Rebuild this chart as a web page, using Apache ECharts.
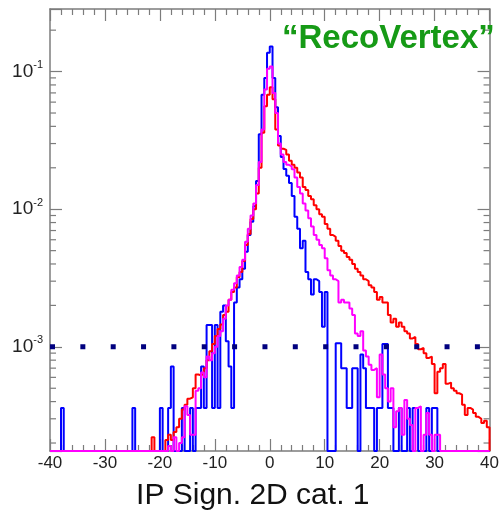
<!DOCTYPE html>
<html><head><meta charset="utf-8">
<script src="https://cdn.jsdelivr.net/npm/echarts@6/dist/echarts.min.js"></script>
<style>html,body{margin:0;padding:0;background:#fff}#c{width:502px;height:516px}</style>
</head><body><div id="c"></div>
<script>
// ---- axis ranges and ticks ----
const xMin = -40, xMax = 40, binWidth = 0.5;
const yMin = 1.75e-4, yMax = 0.285;
const minorYTicks = [2e-4,3e-4,4e-4,5e-4,6e-4,7e-4,8e-4,9e-4,
  2e-3,3e-3,4e-3,5e-3,6e-3,7e-3,8e-3,9e-3,
  2e-2,3e-2,4e-2,5e-2,6e-2,7e-2,8e-2,9e-2,2e-1];
const refLevel = 1e-3;
const titleText = '\u201cRecoVertex\u201d';
const xTitle = 'IP Sign. 2D cat. 1';

// ---- histogram contents, bins of 0.5 from -40 to 40 (160 bins) ----
const blueValues = [
  0,0,0,0,3.6e-4,0,0,0,0,0,
  0,0,0,0,0,0,0,0,0,0,
  0,0,0,0,0,0,0,0,0,0,
  3.6e-4,0,0,0,0,0,0,0,0,0,
  3.6e-4,0,0,3.6e-4,7.2e-4,0,0,0,3.6e-4,0,
  0,3.6e-4,0,3.6e-4,3.6e-4,7.2e-4,3.6e-4,1.44e-3,1.44e-3,3.6e-4,
  1.44e-3,3.6e-4,1.8e-3,2.0e-3,1.1e-3,7.2e-4,3.6e-4,2.1e-3,2.7e-3,3.1e-3,
  3.7e-3,4.9e-3,6.5e-3,8.1e-3,0.0105,0.016,0.035,0.068,0.09,0.137,
  0.152,0.09,0.055,0.034,
  0.024,0.0196,0.0175,0.0155,0.0125,0.0088,0.0072,0.0052,0.0059,0.0035,
  0.0031,0.0024,0.0031,0.0030,0.0025,0.0014,0.0025,0,0,0,
  0.00106,0.00106,0.0007,0.0007,0.00036,0.00036,0.0007,0.0007,0,0.00088,
  0.0007,0.00036,0.00036,0.00036,0,0.00036,0.00036,0.00105,0.00105,0.00036,
  0.00036,0,0,0.00036,0,0,0.00036,0,0.00036,0.00036,
  0,0,0,0.00036,0,0.00036,0.00036,0,0,0,
  0,0,0,0,0,0,0,0,0,0,
  0,0,0,0,0,0
];
const redValues = [
  0,0,0,0,0,0,0,0,0,0,
  0,0,0,0,0,0,0,0,0,0,
  0,0,0,0,0,0,0,0,0,0,
  0,0,0,0,0,0,
  0,2.2e-4,0,0,0,0,2.1e-4,2.3e-4,2.1e-4,2.4e-4,
  2.6e-4,3.0e-4,3.5e-4,3.8e-4,4.2e-4,4.3e-4,5.0e-4,6.3e-4,6.2e-4,6.4e-4,
  7.0e-4,8.0e-4,9.3e-4,1.05e-3,1.2e-3,1.35e-3,1.45e-3,1.7e-3,1.8e-3,2.2e-3,
  2.5e-3,2.7e-3,3.2e-3,3.5e-3,
  0.0042,0.0055,0.0066,0.0085,0.010,0.013,0.02,0.036,0.056,0.068,
  0.077,0.063,0.038,0.029,
  0.0275,0.027,0.025,0.0225,0.021,0.020,0.0185,0.017,0.0145,0.0138,
  0.0125,0.0118,0.0107,0.0100,0.0092,0.0088,0.0078,0.0072,0.0065,0.0063,
  0.0059,0.0054,0.0050,0.0048,0.0045,0.0043,0.0040,0.0037,0.0035,0.0033,
  0.0031,0.0030,0.0028,0.0027,0.0025,0.0022,0.0023,0.0021,0.0021,0.0017,
  0.0015,0.0016,0.0014,0.0015,0.0014,0.0013,0.00125,0.00115,0.00118,0.00105,
  0.00096,0.00098,0.0009,0.00083,0.00085,0.00075,0.00046,0.00066,0.0007,0.00075,
  0.00054,0.00055,0.0005,0.00048,0.00046,0.00045,0.00038,0.00032,0.00036,0.00035,
  0.00033,0.00031,0.0003,0.00028,0.00029,0.00026
];
const magentaValues = [
  0,0,0,0,0,0,0,0,0,0,
  0,0,0,0,0,0,0,0,0,0,
  0,0,0,0,0,0,0,0,0,0,
  0,0,0,0,0,0,0,0,0,0,
  0,0,
  0,1.9e-4,0,2.2e-4,0,2.0e-4,2.2e-4,3.7e-4,3.2e-4,2.3e-4,
  2.3e-4,4.8e-4,5.0e-4,6.5e-4,6.0e-4,8.5e-4,8.0e-4,9.0e-4,1.0e-3,1.2e-3,
  1.3e-3,1.6e-3,2.0e-3,2.2e-3,2.6e-3,2.9e-3,3.3e-3,3.8e-3,
  0.0043,0.0058,0.0072,0.009,0.011,0.015,0.022,0.038,0.074,0.105,
  0.109,0.07,0.05,0.03,
  0.025,0.022,0.021,0.0205,0.0195,0.017,0.0145,0.013,0.011,0.0098,
  0.0086,0.0075,0.0065,0.006,0.0055,0.0052,0.0044,0.0036,0.0033,0.0031,
  0.0030,0.0021,0.0022,0.0021,0.0021,0.0019,0.0017,0.00125,0.0012,0.0013,
  0.00094,0.00085,0.00074,0.00068,0.0007,0.00043,0.00088,0.00063,0.0005,0.0004,
  0.0005,0.00026,0.00034,0.00036,0.00023,0.00041,0.0003,0.00027,0,0.00036,
  0.00037,0,0.00023,0.00033,0.00023,0,0.00023,0.00023,0,0,
  0,0,0,0,0,0,0,0,0,0,
  0,0,0,0,0,0
];

function stepData(vals) {
  const d = [];
  for (let i = 0; i < vals.length; i++) d.push([xMin + i * binWidth, vals[i] > 0 ? vals[i] : yMin]);
  const last = vals[vals.length - 1];
  d.push([xMax, last > 0 ? last : yMin]);
  d.push([xMax, yMin]);
  return d;
}

const axisGrey = '#7c7c7c';
const font = 'Liberation Sans, Arial, Helvetica, sans-serif';

function histSeries(vals, color) {
  return {
    type: 'line', step: 'end', data: stepData(vals), showSymbol: false, symbol: 'none',
    lineStyle: { color: color, width: 2 }, itemStyle: { color: color }, clip: true,
    animation: false, silent: true, z: 3
  };
}

const chart = echarts.init(document.getElementById('c'), null, { renderer: 'canvas' });
chart.setOption({
  animation: false,
  backgroundColor: '#fff',
  title: {
    text: titleText, left: 277, top: 17,
    textStyle: { color: '#169a16', fontSize: 33, fontWeight: 'bold', fontFamily: font }
  },
  grid: { left: 50, right: 10, top: 9, bottom: 62, containLabel: false },
  xAxis: [{
    type: 'value', min: xMin, max: xMax, interval: 10, position: 'bottom',
    axisLine: { onZero: false, lineStyle: { color: axisGrey, width: 1.5 } },
    axisTick: { inside: true, length: 12, lineStyle: { color: axisGrey, width: 1.2 } },
    minorTick: { show: true, splitNumber: 5, length: 6, lineStyle: { color: axisGrey, width: 1.2 } },
    axisLabel: { margin: 4, fontSize: 17, color: '#222', fontFamily: font, showMinLabel: true, showMaxLabel: true },
    splitLine: { show: false },
    name: xTitle, nameLocation: 'middle', nameGap: 30,
    nameTextStyle: { fontSize: 30, color: '#111', fontFamily: font, padding: [0, 34, 0, 0] }
  }, {
    type: 'value', min: xMin, max: xMax, interval: 10, position: 'top',
    axisLine: { onZero: false, lineStyle: { color: axisGrey, width: 1.5 } },
    axisTick: { inside: true, length: 12, lineStyle: { color: axisGrey, width: 1.2 } },
    minorTick: { show: true, splitNumber: 5, length: 6, lineStyle: { color: axisGrey, width: 1.2 } },
    axisLabel: { show: false }, splitLine: { show: false }
  }],
  yAxis: [{
    type: 'log', logBase: 10, min: yMin, max: yMax, position: 'left',
    axisLine: { show: true, onZero: false, lineStyle: { color: axisGrey, width: 1.5 } },
    axisTick: { inside: true, length: 12, lineStyle: { color: axisGrey, width: 1.2 } },
    axisLabel: {
      margin: 7, fontSize: 19, color: '#222', fontFamily: font, lineHeight: 24,
      formatter: function (v) {
        const e = Math.round(Math.log10(v));
        if (Math.abs(v / Math.pow(10, e) - 1) > 1e-6) return '';
        return '10{s|' + e + '}';
      },
      rich: { s: { fontSize: 11, verticalAlign: 'top', color: '#222', fontFamily: font, lineHeight: 12 } }
    },
    splitLine: { show: false }
  }, {
    type: 'log', logBase: 10, min: yMin, max: yMax, position: 'right',
    axisLine: { show: true, onZero: false, lineStyle: { color: axisGrey, width: 1.5 } },
    axisTick: { inside: true, length: 12, lineStyle: { color: axisGrey, width: 1.2 } },
    axisLabel: { show: false }, splitLine: { show: false }
  }],
  series: [
    {
      type: 'custom', coordinateSystem: 'cartesian2d', xAxisIndex: 0, yAxisIndex: 0,
      data: minorYTicks.map(v => [xMin, v]), silent: true, z: 1, clip: false,
      renderItem: function (params, api) {
        const p = api.coord([xMin, api.value(1)]);
        const q = api.coord([xMax, api.value(1)]);
        const st = { stroke: axisGrey, lineWidth: 1.2 };
        return { type: 'group', children: [
          { type: 'line', shape: { x1: p[0], y1: p[1], x2: p[0] + 6, y2: p[1] }, style: st },
          { type: 'line', shape: { x1: q[0] - 6, y1: q[1], x2: q[0], y2: q[1] }, style: st }
        ] };
      }
    },
    histSeries(blueValues, '#0000ff'),
    histSeries(redValues, '#ff0000'),
    histSeries(magentaValues, '#ff00ff'),
    {
      type: 'line', data: [[xMin, refLevel], [xMax, refLevel]], showSymbol: false, symbol: 'none',
      lineStyle: { color: '#00007f', width: 5, type: [5, 25.35], cap: 'butt' },
      silent: true, z: 5, animation: false
    }
  ]
});
</script>
</body></html>
